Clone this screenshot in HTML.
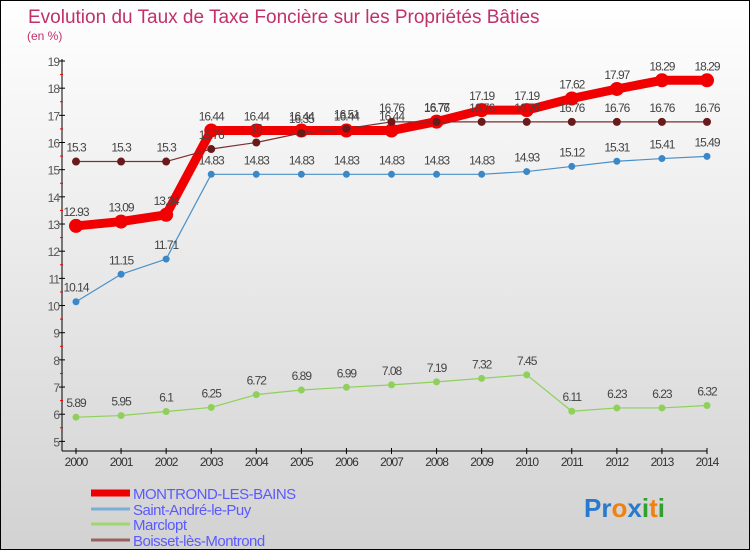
<!DOCTYPE html>
<html><head><meta charset="utf-8"><style>
body{margin:0}
#wrap{position:relative;width:748px;height:548px;border:1px solid #000;background:linear-gradient(#ffffff,#d2d2d2);font-family:"Liberation Sans",sans-serif;overflow:hidden}
svg{position:absolute;left:0;top:0}
</style></head><body>
<div id="wrap">
<svg id="c" width="748" height="548">
<text x="27" y="22" font-size="19" fill="#c0306a">Evolution du Taux de Taxe Foncière sur les Propriétés Bâties</text>
<text x="26" y="39" font-size="12" fill="#c0306a">(en %)</text>
</svg>
</div>
<script>
const years=[2000,2001,2002,2003,2004,2005,2006,2007,2008,2009,2010,2011,2012,2013,2014];
const montrond=[12.93,13.09,13.34,16.44,16.44,16.44,16.44,16.44,16.77,17.19,17.19,17.62,17.97,18.29,18.29];
const saintAndre=[10.14,11.15,11.71,14.83,14.83,14.83,14.83,14.83,14.83,14.83,14.93,15.12,15.31,15.41,15.49];
const marclopt=[5.89,5.95,6.1,6.25,6.72,6.89,6.99,7.08,7.19,7.32,7.45,6.11,6.23,6.23,6.32];
const boisset=[15.3,15.3,15.3,15.76,16,16.35,16.51,16.76,16.76,16.76,16.76,16.76,16.76,16.76,16.76];
const yTicks=[5,6,7,8,9,10,11,12,13,14,15,16,17,18,19];
const seriesNames=["MONTROND-LES-BAINS","Saint-André-le-Puy","Marclopt","Boisset-lès-Montrond"];

const svg=document.getElementById('c');const NS='http://www.w3.org/2000/svg';
const X=i=>75+i*(631/14);
const Y=v=>60+(19-v)*27.17;
function mk(t,a,p){const e=document.createElementNS(NS,t);for(const k in a)e.setAttribute(k,a[k]);(p||svg).appendChild(e);return e;}
const ax=mk('line',{x1:61,y1:58,x2:61,y2:450,stroke:'#000'});


const bx=mk('line',{x1:61,y1:450,x2:706,y2:450,stroke:'#000'});


yTicks.forEach(v=>{
  mk('line',{x1:58,y1:Y(v),x2:64,y2:Y(v),stroke:'#000'});
  if(v<19)mk('line',{x1:59,y1:Y(v+0.5),x2:62,y2:Y(v+0.5),stroke:'#e00'});
  const t=mk('text',{x:58,y:Y(v)+5,'font-size':12,fill:'#555','text-anchor':'end','letter-spacing':'-1'});
  t.textContent=v;
  
  
});
years.forEach((yr,i)=>{
  mk('line',{x1:X(i),y1:447,x2:X(i),y2:453,stroke:'#000'});
  const t=mk('text',{x:X(i),y:465,'font-size':12,fill:'#333','text-anchor':'middle','letter-spacing':'-1'});
  t.textContent=yr;
  
  
});
function series(data,color,w,r,dot,name){
  const g=mk('g',{});
  
  
  mk('polyline',{points:data.map((v,i)=>X(i)+','+Y(v)).join(' '),fill:'none',stroke:color,'stroke-width':w,'stroke-linejoin':'round'},g);
  data.forEach((v,i)=>{
    const c=mk('circle',{cx:X(i),cy:Y(v),r:r,fill:dot},g);
    
    
    const t=mk('text',{x:X(i),y:Y(v)-10,'font-size':12,fill:'#444','text-anchor':'middle','letter-spacing':'-1'},g);
    t.textContent=v;
    
    
  });
}
series(marclopt,'#8fd05a',1.2,3.5,'#8fd05a','series-marclopt');
series(saintAndre,'#4a90c8',1.2,3.5,'#3a88c8','series-saint-andre');
series(montrond,'#f00000',9,7,'#f00000','series-montrond');
series(boisset,'#7a3030',1.2,4,'#6a1a1a','series-boisset');
const cols=['#ee0000','#7aaed6','#9ed870','#9a6060'],ws=[7,3,3,3],ys=[492,508,523,539];
seriesNames.forEach((n,i)=>{
  const l=mk('line',{x1:90,y1:ys[i],x2:129,y2:ys[i],stroke:cols[i],'stroke-width':ws[i]});
  
  
  const t=mk('text',{x:132,y:ys[i]+6,'font-size':15,fill:'#5a5aff','letter-spacing':'-0.5'});
  t.textContent=n;
  
  
});
const lg=mk('text',{x:583,y:516,'font-size':26,'font-weight':'bold'});


[['Pr','#2a7acc'],['o','#f08010'],['x','#2a7acc'],['i','#30a030'],['t','#f08010'],['i','#30a030']].forEach(([s,c])=>{const ts=mk('tspan',{fill:c},lg);ts.textContent=s;});
</script>
</body></html>
